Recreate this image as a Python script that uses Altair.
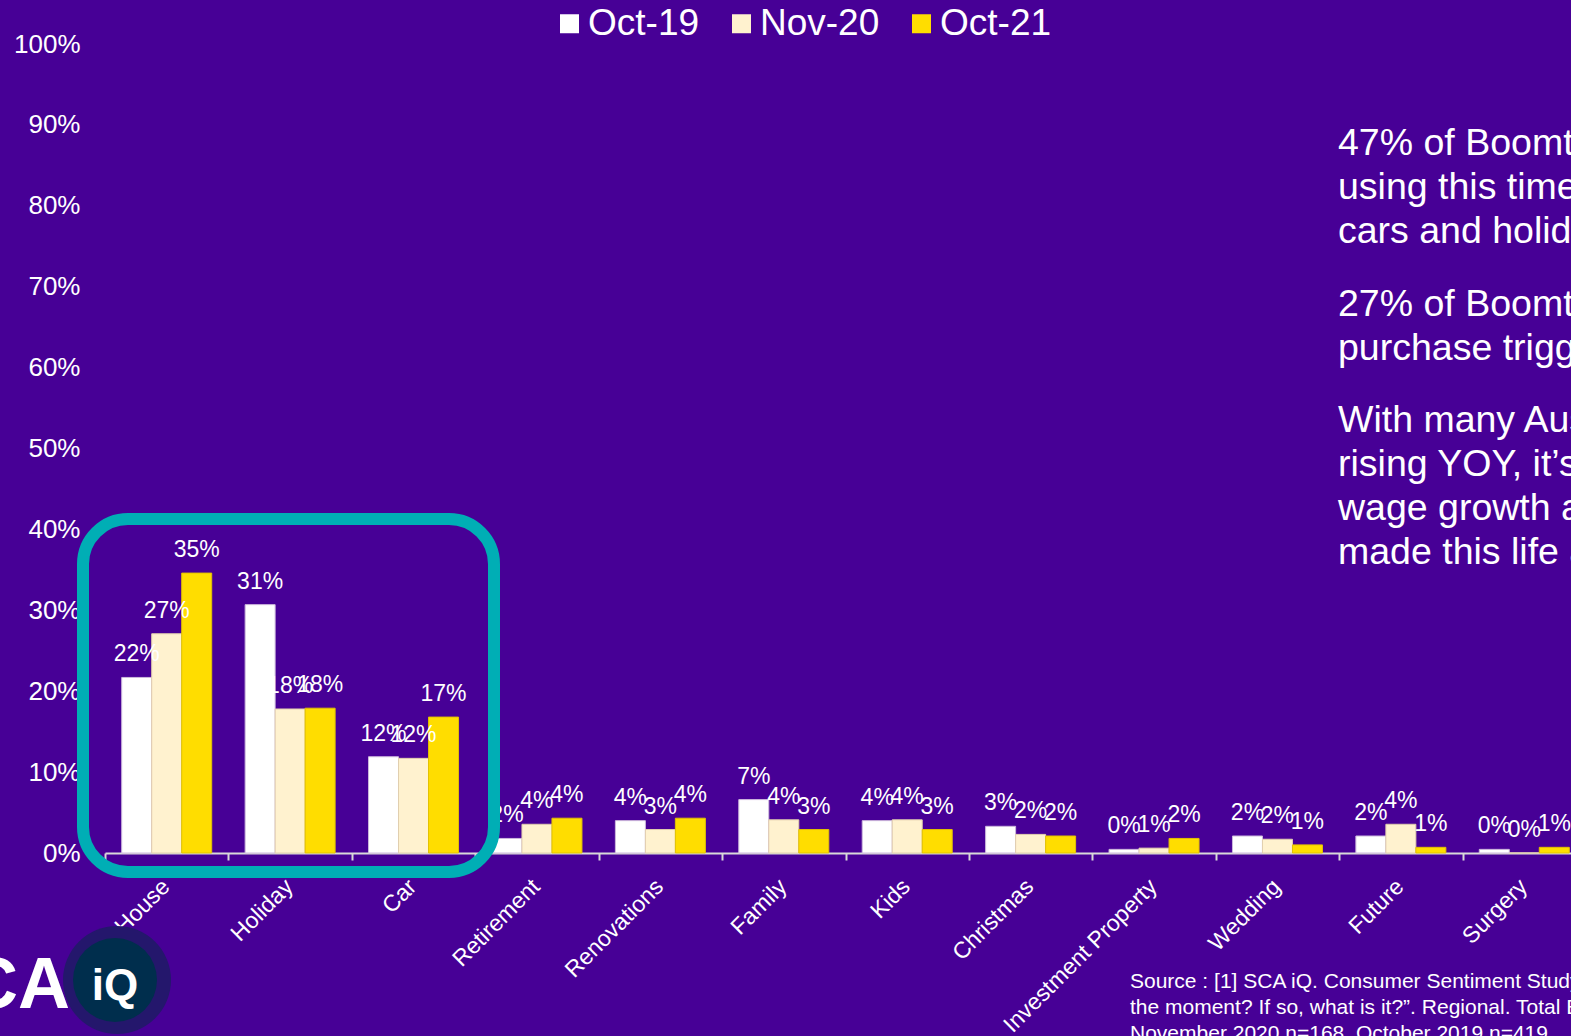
import altair as alt
import pandas as pd

# ---------------- data ----------------
categories = ["House", "Holiday", "Car", "Retirement", "Renovations", "Family",
              "Kids", "Christmas", "Investment Property", "Wedding", "Future", "Surgery"]
series = ["Oct-19", "Nov-20", "Oct-21"]
oct19 = [21.7, 30.7, 11.9, 1.8, 4.0, 6.6, 4.0, 3.3, 0.45, 2.1, 2.1, 0.45]
nov20 = [27.1, 17.8, 11.7, 3.55, 2.9, 4.1, 4.1, 2.3, 0.6, 1.7, 3.55, 0.0]
oct21 = [34.6, 17.9, 16.8, 4.3, 4.3, 2.9, 2.9, 2.1, 1.8, 1.0, 0.7, 0.7]
y_ticks = [0, 10, 20, 30, 40, 50, 60, 70, 80, 90, 100]

fills = ["#FFFFFF", "#FFF2CF", "#FFDD00"]
strokes = ["#CDB8DC", "#E2CFAE", "#E3C200"]

para1 = ["47% of Boomtown Regional Aussies are currently",
         "using this time to save for big-ticket items like houses,",
         "cars and holidays."]
para2 = ["27% of Boomtown Regional Aussies say a house is their",
         "purchase trigger."]
para3 = ["With many Aussies seeing house prices",
         "rising YOY, it\u2019s likely that a mix of",
         "wage growth and lower spending has",
         "made this life achievable."]
source_lines = ["Source : [1] SCA iQ. Consumer Sentiment Study. \u201cAre you saving for anything at",
                "the moment? If so, what is it?\u201d. Regional. Total Boomtown Regional. October 2021 n=400,",
                "November 2020 n=168, October 2019 n=419."]

BG = "#470096"
FONT = "Liberation Sans"

rows = []
for i, c in enumerate(categories):
    for s, vals in zip(series, [oct19, nov20, oct21]):
        rows.append({"category": c, "series": s, "value": vals[i]})
df = pd.DataFrame(rows)

x_enc = alt.X("category:N", sort=categories,
              scale=alt.Scale(range=[0, 1481], paddingInner=0, paddingOuter=0),
              axis=alt.Axis(title=None, tickBand="extent", ticks=True, tickSize=7,
                            tickColor="#D9D9D9", tickWidth=2, domainColor="#D9D9D9",
                            domainWidth=2, labelAngle=-45, labelFontSize=23,
                            labelColor="white", labelFont=FONT, labelPadding=15,
                            labelOffset=-9, labelLimit=400, grid=False))
xoff = alt.XOffset("series:N", sort=series,
                   scale=alt.Scale(paddingInner=0, paddingOuter=0.557))
y_enc = alt.Y("value:Q", scale=alt.Scale(domain=[0, 100], nice=False),
              axis=alt.Axis(title=None, values=y_ticks, labelExpr="datum.value + '%'",
                            grid=False, ticks=False, domain=False, labelFontSize=26,
                            labelColor="white", labelFont=FONT, labelPadding=25))

bars = alt.Chart(df).mark_bar(strokeWidth=1).encode(
    x=x_enc,
    xOffset=xoff,
    y=y_enc,
    color=alt.Color("series:N", sort=series,
                    scale=alt.Scale(domain=series, range=fills),
                    legend=alt.Legend(title=None, orient="none", legendX=446, legendY=-39,
                                      direction="horizontal", symbolType="square",
                                      symbolSize=361, symbolStrokeWidth=0,
                                      symbolOpacity=1, labelFontSize=37,
                                      labelColor="white", labelFont=FONT,
                                      labelOffset=0, columnPadding=23, padding=0,
                                      labelLimit=300)),
    stroke=alt.Stroke("series:N", scale=alt.Scale(domain=series, range=strokes),
                      legend=None),
)

labels = alt.Chart(df).transform_calculate(
    lbl="format(datum.value, '.0f') + '%'"
).mark_text(dy=-16, baseline="alphabetic", align="center", fontSize=23,
            color="white", font=FONT).encode(
    x=alt.X("category:N", sort=categories),
    xOffset=xoff,
    y=alt.Y("value:Q"),
    text="lbl:N",
)

one = pd.DataFrame({"k": [0]})

frame = alt.Chart(one).mark_rect(cornerRadius=45, fillOpacity=0, stroke="#00AEB5",
                                 strokeWidth=12).encode(
    x=alt.value(-22), x2=alt.value(389), y=alt.value(475), y2=alt.value(828))


def text_block(lines, x, y, size, lh, **kw):
    d = pd.DataFrame({"t": ["\n".join(lines)]})
    return alt.Chart(d).mark_text(align="left", baseline="alphabetic", fontSize=size,
                                  lineHeight=lh, lineBreak="\n", color="white",
                                  font=FONT, **kw).encode(
        x=alt.value(x), y=alt.value(y), text="t:N")


p1 = text_block(para1, 1233, 111, 37.5, 44)
p2 = text_block(para2, 1233, 272, 37.5, 44)
p3 = text_block(para3, 1233, 388, 37.5, 44)
src = text_block(source_lines, 1025, 944, 21, 26)

halo = alt.Chart(one).mark_point(filled=True, shape="circle", size=11664,
                                 color="#24176C", opacity=1).encode(
    x=alt.value(12), y=alt.value(936))
core = alt.Chart(one).mark_point(filled=True, shape="circle", size=7056,
                                 color="#002E4D", opacity=1).encode(
    x=alt.value(10), y=alt.value(936))
sca = alt.Chart(pd.DataFrame({"t": ["SCA"]})).mark_text(
    align="right", baseline="alphabetic", fontSize=72, fontWeight="bold",
    font="Liberation Sans Narrow, Liberation Sans", color="white").encode(
    x=alt.value(-35), y=alt.value(964), text="t:N")
iq = alt.Chart(pd.DataFrame({"t": ["iQ"]})).mark_text(
    align="center", baseline="alphabetic", fontSize=44, fontWeight="bold",
    font=FONT, color="white").encode(
    x=alt.value(10), y=alt.value(956), text="t:N")

chart = alt.layer(bars, labels, frame, p1, p2, p3, src, halo, core, sca, iq).properties(
    width=1466, height=809,
    autosize=alt.AutoSizeParams(type="none"),
    padding={"left": 105, "top": 44, "right": 0, "bottom": 183},
).configure(background=BG).configure_view(stroke=None)

chart.save("out.html", embed_options={"renderer": "svg", "actions": False})
